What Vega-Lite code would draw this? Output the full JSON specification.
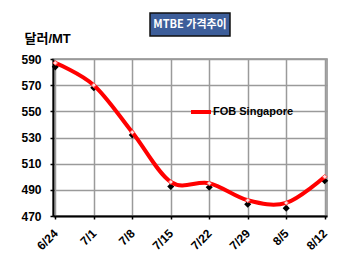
{
  "$schema": "https://vega.github.io/schema/vega-lite/v6.json",
  "padding": {"left": 20, "top": 12, "right": 5, "bottom": 5},
  "background": "white",
  "config": {
    "font": "Liberation Sans, Noto Sans CJK KR",
    "view": {"stroke": "#8c8c8c", "strokeWidth": 1.5}
  },
  "bounds": "flush",
  "center": true,
  "spacing": 23,
  "vconcat": [
    {
      "width": 80,
      "height": 23,
      "view": {"stroke": null},
      "data": {"values": [{"title": "MTBE 가격추이"}]},
      "layer": [
        {"mark": {"type": "rect", "fill": "#3D5E9A", "stroke": "#111111", "strokeWidth": 1.5}},
        {
          "mark": {"type": "text", "color": "white", "fontWeight": "bold", "fontSize": 11, "font": "Noto Sans CJK KR", "baseline": "middle"},
          "encoding": {"text": {"field": "title"}}
        }
      ]
    },
    {
      "width": 274,
      "height": 157,
      "data": {
        "values": [
          {"week": "6/24", "fob": 587, "fob_alt": 584, "series": "FOB Singapore"},
          {"week": "7/1", "fob": 570, "fob_alt": 568, "series": "FOB Singapore"},
          {"week": "7/8", "fob": 534, "fob_alt": 532, "series": "FOB Singapore"},
          {"week": "7/15", "fob": 496, "fob_alt": 492.5, "series": "FOB Singapore"},
          {"week": "7/22", "fob": 495, "fob_alt": 492, "series": "FOB Singapore"},
          {"week": "7/29", "fob": 482, "fob_alt": 479, "series": "FOB Singapore"},
          {"week": "8/5", "fob": 480, "fob_alt": 476, "series": "FOB Singapore"},
          {"week": "8/12", "fob": 500, "fob_alt": 497, "series": "FOB Singapore"}
        ]
      },
      "encoding": {
        "x": {
          "field": "week",
          "type": "ordinal",
          "sort": null,
          "scale": {"type": "point", "padding": 0.06},
          "axis": {
            "title": null,
            "labelAngle": -45,
            "labelAlign": "right",
            "labelBaseline": "middle",
            "labelFontSize": 12,
            "labelFontWeight": "bold",
            "labelColor": "black",
            "labelPadding": 12,
            "labelOverlap": false,
            "tickSize": 3,
            "tickColor": "black",
            "tickWidth": 1.5,
            "domainColor": "black",
            "domainWidth": 2,
            "grid": true,
            "gridColor": "#9a9a9a",
            "gridWidth": 1.5
          }
        },
        "y": {
          "field": "fob",
          "type": "quantitative",
          "scale": {"domain": [470, 590], "nice": false, "zero": false},
          "axis": {
            "values": [470, 490, 510, 530, 550, 570, 590],
            "labelOverlap": false,
            "labelBound": false,
            "title": "달러/MT",
            "titleAngle": 0,
            "titleAlign": "left",
            "titleBaseline": "middle",
            "titleX": -29,
            "titleY": -21,
            "titleFontSize": 13,
            "titleFontWeight": "bold",
            "titleColor": "black",
            "labelFontSize": 12,
            "labelFontWeight": "bold",
            "labelColor": "black",
            "labelPadding": 9,
            "tickSize": 3,
            "tickColor": "black",
            "tickWidth": 1.5,
            "domainColor": "black",
            "domainWidth": 2,
            "grid": true,
            "gridColor": "#9a9a9a",
            "gridWidth": 1.5
          }
        }
      },
      "layer": [
        {
          "mark": {"type": "point", "shape": "diamond", "filled": true, "color": "black", "size": 50, "opacity": 1},
          "encoding": {
            "y": {"field": "fob_alt", "type": "quantitative"}
          }
        },
        {
          "mark": {"type": "line", "interpolate": "cardinal", "tension": 0, "strokeWidth": 4},
          "encoding": {
            "color": {
              "field": "series",
              "type": "nominal",
              "scale": {"range": ["#FF0000"]},
              "legend": {
                "title": null,
                "orient": "none",
                "legendX": 136,
                "legendY": 87,
                "symbolType": "stroke",
                "symbolStrokeWidth": 4,
                "symbolSize": 400,
                "labelFontSize": 11,
                "labelFontWeight": "bold",
                "labelColor": "black",
                "labelOffset": 0
              }
            }
          }
        },
        {
          "mark": {"type": "point", "shape": "diamond", "filled": true, "fill": "#FFE0E0", "stroke": "#FF5050", "strokeWidth": 1, "size": 22, "opacity": 1},
          "encoding": {}
        }
      ]
    }
  ]
}
